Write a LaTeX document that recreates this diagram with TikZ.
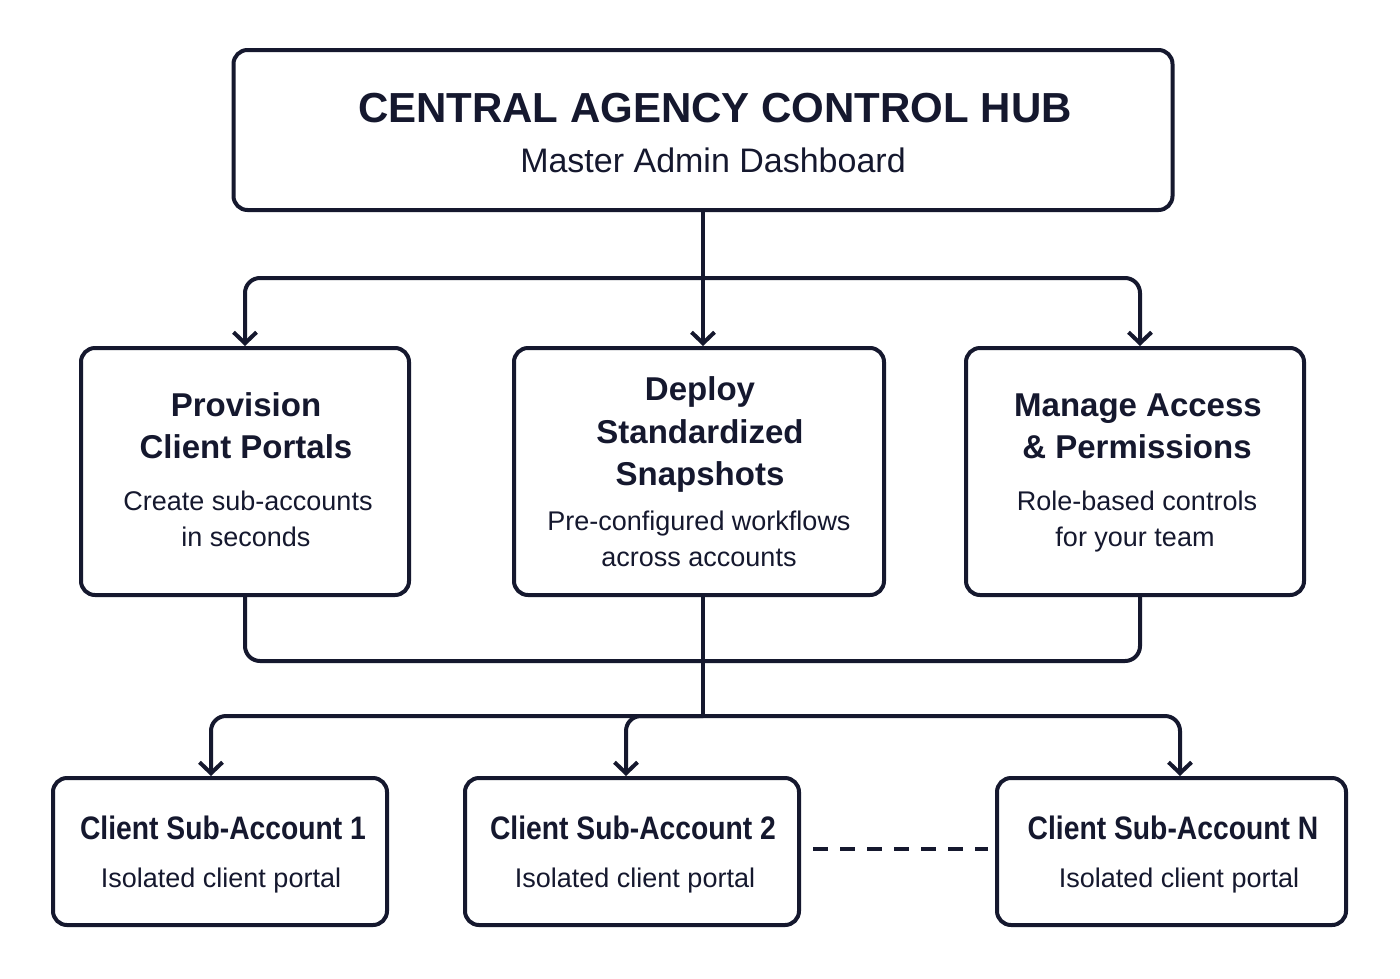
\documentclass[tikz,border=0pt]{standalone}
\usepackage{fontspec}
\setmainfont{Liberation Sans}
\newfontfamily\condfont[FakeStretch=0.87]{Liberation Sans}
\usetikzlibrary{arrows.meta}
\definecolor{navy}{HTML}{15182E}
\begin{document}
\begin{tikzpicture}[x=1pt,y=-1pt,
  box/.style={draw=navy,line width=4pt,rounded corners=14pt,minimum width=#1,inner sep=0pt},
  conn/.style={draw=navy,line width=4pt,rounded corners=15pt},
  arr/.style={conn,-{Straight Barb[length=11pt,width=23pt,line width=4pt]}},
  ttl/.style={text=navy,font=\bfseries\fontsize{33}{40}\selectfont,anchor=base,inner sep=0pt},
  sub/.style={text=navy,font=\fontsize{27}{32}\selectfont,anchor=base,inner sep=0pt},
  btl/.style={text=navy,font=\condfont\bfseries\fontsize{32.5}{38}\selectfont,anchor=base,inner sep=0pt},
]
\useasboundingbox[fill=white] (0,0) rectangle (1400,978);

% boxes
\node[box=939pt,minimum height=160pt] (top) at (703,130) {};
\node[box=328pt,minimum height=247pt] (pleft) at (245,471.5) {};
\node[box=370pt,minimum height=247pt] (pmid) at (699,471.5) {};
\node[box=338pt,minimum height=247pt] (pright) at (1135,471.5) {};
\node[box=334pt,minimum height=147pt] (b1) at (220,851.5) {};
\node[box=334pt,minimum height=147pt] (b2) at (632,851.5) {};
\node[box=349pt,minimum height=147pt] (bN) at (1171.5,851.5) {};

% texts
\node[text=navy,font=\bfseries\fontsize{42}{50}\selectfont,anchor=base,inner sep=0pt] (t1) at (715,122) {CENTRAL AGENCY CONTROL HUB};
\node[text=navy,font=\fontsize{34}{40}\selectfont,anchor=base,inner sep=0pt] (t2) at (713,172) {Master Admin Dashboard};

\node[ttl] (l1) at (246,416) {Provision};
\node[ttl] (l2) at (246,458) {Client Portals};
\node[sub] (l3) at (248,510) {Create sub-accounts};
\node[sub] (l4) at (246,546) {in seconds};

\node[ttl] (m1) at (700,400) {Deploy};
\node[ttl] (m2) at (700,443) {Standardized};
\node[ttl] (m3) at (700,485) {Snapshots};
\node[sub] (m4) at (699,530) {Pre-configured workflows};
\node[sub] (m5) at (699,566) {across accounts};

\node[ttl] (r1) at (1138,416) {Manage Access};
\node[ttl] (r2) at (1137,458) {\& Permissions};
\node[sub] (r3) at (1137,510) {Role-based controls};
\node[sub] (r4) at (1135,546) {for your team};

\node[btl] (b1t) at (223,839) {Client Sub-Account 1};
\node[sub] (b1s) at (221,887) {Isolated client portal};
\node[btl] (b2t) at (633,839) {Client Sub-Account 2};
\node[sub] (b2s) at (635,887) {Isolated client portal};
\node[btl] (bNt) at (1173,839) {Client Sub-Account N};
\node[sub] (bNs) at (1179,887) {Isolated client portal};

% connectors from hub
\coordinate (h1) at (703,278);
\draw[arr] (top.south) -- ([xshift=4pt]pmid.north);
\draw[arr] (h1) -| (pleft.north);
\draw[arr] (h1) -| ([xshift=5pt]pright.north);

% merge
\coordinate (mg) at (703,661);
\coordinate (h2) at (703,716);
\draw[conn] (pleft.south) |- (mg) -| ([xshift=5pt]pright.south);
\draw[conn] ([xshift=4pt]pmid.south) -- (h2);
\draw[arr] (h2) -| ([xshift=-9pt]b1.north);
\draw[arr] (h2) -| ([xshift=-6pt]b2.north);
\draw[arr] (h2) -| ([xshift=8.5pt]bN.north);

% dashed
\draw[draw=navy,line width=4pt,dash pattern=on 15pt off 12pt] ([xshift=12pt,yshift=2.5pt]b2.east) -- ([xshift=-7pt,yshift=2.5pt]bN.west);
\end{tikzpicture}
\end{document}
